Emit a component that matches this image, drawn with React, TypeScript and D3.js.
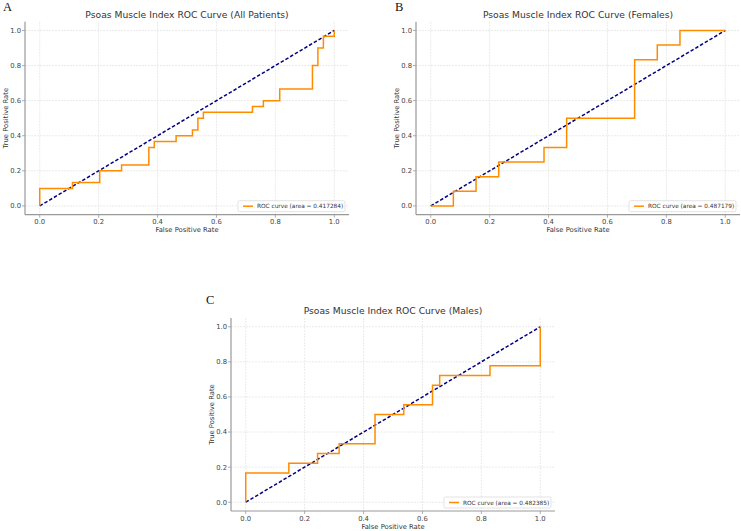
import React from "react";
import * as d3 from "d3";

// ROC curve corner points
const fprAll = [0, 0, 0.1111, 0.1111, 0.2037, 0.2037, 0.2778, 0.2778, 0.3704, 0.3704, 0.3889, 0.3889, 0.463, 0.463, 0.5185, 0.5185, 0.537, 0.537, 0.5556, 0.5556, 0.7222, 0.7222, 0.7593, 0.7593, 0.8148, 0.8148, 0.9259, 0.9259, 0.9444, 0.9444, 0.963, 0.963, 1, 1];
const tprAll = [0, 0.1, 0.1, 0.1333, 0.1333, 0.2, 0.2, 0.2333, 0.2333, 0.3333, 0.3333, 0.3667, 0.3667, 0.4, 0.4, 0.4333, 0.4333, 0.5, 0.5, 0.5333, 0.5333, 0.5667, 0.5667, 0.6, 0.6, 0.6667, 0.6667, 0.8, 0.8, 0.9, 0.9, 0.9667, 0.9667, 1];

const fprFemales = [0, 0.0769, 0.0769, 0.1538, 0.1538, 0.2308, 0.2308, 0.3846, 0.3846, 0.4615, 0.4615, 0.6923, 0.6923, 0.7692, 0.7692, 0.8462, 0.8462, 1];
const tprFemales = [0, 0, 0.0833, 0.0833, 0.1667, 0.1667, 0.25, 0.25, 0.3333, 0.3333, 0.5, 0.5, 0.8333, 0.8333, 0.9167, 0.9167, 1, 1];

const fprMales = [0, 0, 0.1463, 0.1463, 0.2439, 0.2439, 0.3171, 0.3171, 0.439, 0.439, 0.5366, 0.5366, 0.6341, 0.6341, 0.6585, 0.6585, 0.8293, 0.8293, 1, 1];
const tprMales = [0, 0.1667, 0.1667, 0.2222, 0.2222, 0.2778, 0.2778, 0.3333, 0.3333, 0.5, 0.5, 0.5556, 0.5556, 0.6667, 0.6667, 0.7222, 0.7222, 0.7778, 0.7778, 1];

const panelLetters = ["A", "B", "C"];
const titles = [
  "Psoas Muscle Index ROC Curve (All Patients)",
  "Psoas Muscle Index ROC Curve (Females)",
  "Psoas Muscle Index ROC Curve (Males)",
];
const aucs = ["0.417284", "0.487179", "0.482385"];
const ticks = [0, 0.2, 0.4, 0.6, 0.8, 1.0];

const W = 741;
const H = 531;

type PanelProps = {
  left: number;
  top: number;
  letter: string;
  letterX: number;
  letterY: number;
  title: string;
  auc: string;
  fpr: number[];
  tpr: number[];
};

const Panel = ({ left, top, letter, letterX, letterY, title, auc, fpr, tpr }: PanelProps) => {
  const w = 324;
  const h = 193;
  const x = d3.scaleLinear().domain([-0.05, 1.05]).range([left, left + w]);
  const y = d3.scaleLinear().domain([-0.05, 1.05]).range([top + h, top]);
  const pts: [number, number][] = fpr.map((f, i) => [f, tpr[i]]);
  const line = d3
    .line<[number, number]>()
    .x((d) => x(d[0]))
    .y((d) => y(d[1]));
  const lx = left + w - 111;
  const ly = top + h - 14;

  return (
    <g>
      <text x={letterX} y={letterY} fontFamily="Liberation Serif, Times New Roman, serif" fontSize={12.5} fill="#111">
        {letter}
      </text>
      <text x={left + w / 2} y={top - 4} textAnchor="middle" fontSize={9.2} fill="#333">
        {title}
      </text>
      {/* grid */}
      {ticks.map((t) => (
        <g key={t}>
          <line x1={x(t)} x2={x(t)} y1={top} y2={top + h} stroke="#e4e4e4" strokeWidth={0.8} strokeDasharray="2,1" />
          <line x1={left} x2={left + w} y1={y(t)} y2={y(t)} stroke="#e4e4e4" strokeWidth={0.8} strokeDasharray="2,1" />
        </g>
      ))}
      {/* spines */}
      <line x1={left} x2={left} y1={top} y2={top + h} stroke="#999" strokeWidth={1.2} />
      <line x1={left} x2={left + w} y1={top + h} y2={top + h} stroke="#999" strokeWidth={1.2} />
      {/* ticks */}
      {ticks.map((t) => (
        <g key={"t" + t} fontSize={6.8} fill="#444">
          <line x1={left - 3} x2={left} y1={y(t)} y2={y(t)} stroke="#999" strokeWidth={0.8} />
          <text x={left - 4} y={y(t) + 2.4} textAnchor="end">
            {d3.format(".1f")(t)}
          </text>
          <line x1={x(t)} x2={x(t)} y1={top + h} y2={top + h + 3} stroke="#999" strokeWidth={0.8} />
          <text x={x(t)} y={top + h + 9.5} textAnchor="middle">
            {d3.format(".1f")(t)}
          </text>
        </g>
      ))}
      <text x={left + w / 2} y={top + h + 17.5} textAnchor="middle" fontSize={6.8} fill="#333">
        False Positive Rate
      </text>
      <text
        transform={`translate(${left - 17},${top + h / 2}) rotate(-90)`}
        textAnchor="middle"
        fontSize={6.8}
        fill="#333"
      >
        True Positive Rate
      </text>
      {/* diagonal */}
      <line x1={x(0)} y1={y(0)} x2={x(1)} y2={y(1)} stroke="#000080" strokeWidth={1.5} strokeDasharray="3.5,2" />
      <path d={line(pts) ?? ""} fill="none" stroke="#ff8c00" strokeWidth={1.5} />
      {/* legend */}
      <rect x={lx} y={ly} width={107} height={11} rx={1.5} fill="white" fillOpacity={0.85} stroke="#d0d0d0" strokeWidth={0.6} />
      <line x1={lx + 5} x2={lx + 15} y1={ly + 5.5} y2={ly + 5.5} stroke="#ff8c00" strokeWidth={1.5} />
      <text x={lx + 19} y={ly + 7.6} fontSize={5.8} fill="#333">
        {`ROC curve (area = ${auc})`}
      </text>
    </g>
  );
};

export default function App() {
  return (
    <svg
      width={W}
      height={H}
      style={{ position: "absolute", left: 0, top: 0, background: "white" }}
      fontFamily="DejaVu Sans, sans-serif"
    >
      <rect width={W} height={H} fill="white" />
      <Panel left={25} top={21.7} letter={panelLetters[0]} letterX={3} letterY={11} title={titles[0]} auc={aucs[0]} fpr={fprAll} tpr={tprAll} />
      <Panel left={416} top={21.7} letter={panelLetters[1]} letterX={395} letterY={11} title={titles[1]} auc={aucs[1]} fpr={fprFemales} tpr={tprFemales} />
      <Panel left={231} top={318} letter={panelLetters[2]} letterX={206} letterY={303.5} title={titles[2]} auc={aucs[2]} fpr={fprMales} tpr={tprMales} />
    </svg>
  );
}
